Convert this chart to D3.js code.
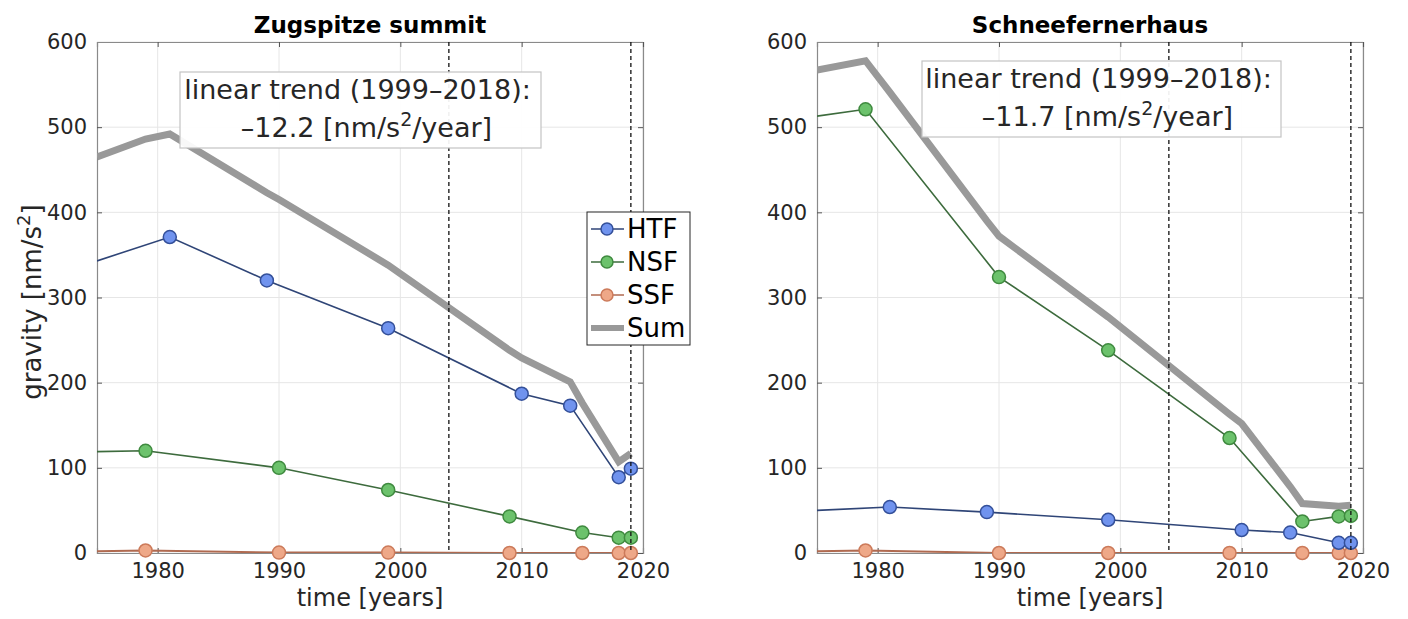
<!DOCTYPE html>
<html>
<head>
<meta charset="utf-8">
<script src="https://cdn.jsdelivr.net/npm/d3@7"></script>
<style>
   body { margin: 0; background: #fff; }
   svg { font-family: "DejaVu Sans", sans-serif; }
</style>
</head>
<body>
<div id="chart"></div>
<script>
// Zugspitze summit
const zugHtfYears = [1975, 1981, 1989, 1999, 2010, 2014, 2018, 2019];
const zugHtf = [343, 371, 320, 264, 187, 173, 89, 99];
const zugNsfYears = [1975, 1979, 1990, 1999, 2009, 2015, 2018, 2019];
const zugNsf = [119, 120, 100, 74, 43, 24, 18, 18];
const zugSsfYears = [1975, 1979, 1990, 1999, 2009, 2015, 2018, 2019];
const zugSsf = [2, 3, 0.5, 0.5, 0, 0, 0, 0];
const zugSumYears = [1975, 1979, 1981, 1989, 1990, 1999, 2009, 2010, 2014, 2015, 2018, 2019];
const zugSum = [465, 486, 492, 423, 415, 338, 238, 229, 201, 176, 107, 117];

// Schneefernerhaus
const sfhHtfYears = [1975, 1981, 1989, 1999, 2010, 2014, 2018, 2019];
const sfhHtf = [50, 54, 48, 39, 27, 24, 12, 12];
const sfhNsfYears = [1975, 1979, 1990, 1999, 2009, 2015, 2018, 2019];
const sfhNsf = [513, 521, 324, 238, 135, 37, 43, 43.5];
const sfhSsfYears = [1975, 1979, 1990, 1999, 2009, 2015, 2018, 2019];
const sfhSsf = [2, 3, 0, 0, 0, 0, 0, 0];
const sfhSumYears = [1975, 1979, 1981, 1989, 1990, 1999, 2009, 2010, 2014, 2015, 2018, 2019];
const sfhSum = [567, 578, 541, 390, 372, 277, 163, 152, 78, 58, 55, 56];

const xTicks = [1980, 1990, 2000, 2010, 2020];
const yTicks = [0, 100, 200, 300, 400, 500, 600];
const markerYears = [2004, 2019];
const seriesNames = ["HTF", "NSF", "SSF", "Sum"];
const panelTitles = ["Zugspitze summit", "Schneefernerhaus"];
const trendValues = ["\u201312.2", "\u201311.7"];

const styles = {
   HTF: { line: "#2f4577", fill: "#7093ee", stroke: "#34509a" },
   NSF: { line: "#3d6b3d", fill: "#6cc26c", stroke: "#3f8a3f" },
   SSF: { line: "#b06a50", fill: "#eea888", stroke: "#cc7a5a" },
   Sum: { line: "#999999" }
};

const zip = (years, values) => years.map((y, i) => ({ x: y, y: values[i] }));

const panels = [
   {
      left: 97, right: 643, top: 42, bottom: 553,
      title: panelTitles[0], trend: trendValues[0],
      box: { x: 180, y: 72, w: 361, h: 76 },
      legend: true,
      series: {
         HTF: zip(zugHtfYears, zugHtf),
         NSF: zip(zugNsfYears, zugNsf),
         SSF: zip(zugSsfYears, zugSsf),
         Sum: zip(zugSumYears, zugSum)
      }
   },
   {
      left: 817, right: 1363, top: 42, bottom: 553,
      title: panelTitles[1], trend: trendValues[1],
      box: { x: 922, y: 61, w: 359, h: 76 },
      legend: false,
      series: {
         HTF: zip(sfhHtfYears, sfhHtf),
         NSF: zip(sfhNsfYears, sfhNsf),
         SSF: zip(sfhSsfYears, sfhSsf),
         Sum: zip(sfhSumYears, sfhSum)
      }
   }
];

const svg = d3.select("#chart").append("svg")
   .attr("width", 1408)
   .attr("height", 619);

panels.forEach((p, pi) => {
   const x = d3.scaleLinear().domain([1975, 2020]).range([p.left, p.right]);
   const y = d3.scaleLinear().domain([0, 600]).range([p.bottom, p.top]);
   const g = svg.append("g").attr("class", "panel-" + pi);

   // Clip for data
   g.append("clipPath").attr("id", "clip" + pi)
      .append("rect")
      .attr("x", p.left).attr("y", p.top)
      .attr("width", p.right - p.left).attr("height", p.bottom - p.top);

   // Gridlines
   g.append("g").selectAll("line").data(xTicks).join("line")
      .attr("x1", d => x(d)).attr("x2", d => x(d))
      .attr("y1", p.top).attr("y2", p.bottom)
      .attr("stroke", "#e6e6e6").attr("stroke-width", 1);
   g.append("g").selectAll("line").data(yTicks).join("line")
      .attr("x1", p.left).attr("x2", p.right)
      .attr("y1", d => y(d)).attr("y2", d => y(d))
      .attr("stroke", "#e6e6e6").attr("stroke-width", 1);

   // Axes (ticks inward, MATLAB style)
   const yAxis = d3.axisLeft(y).tickValues(yTicks).tickSize(-5).tickPadding(10).tickFormat(d3.format("d"));
   const xAxis = d3.axisBottom(x).tickValues(xTicks).tickSize(-5).tickPadding(10).tickFormat(d3.format("d"));
   const yAxisR = d3.axisRight(y).tickValues(yTicks).tickSize(-5).tickFormat("");
   const xAxisT = d3.axisTop(x).tickValues(xTicks).tickSize(-5).tickFormat("");

   const styleAxis = (sel) => {
      sel.select(".domain").attr("stroke", "#8a8a8a").attr("stroke-width", 1.2);
      sel.selectAll(".tick line").attr("stroke", "#555");
      sel.selectAll(".tick text")
         .attr("fill", "#262626")
         .style("font-size", "21px")
         .style("font-family", "DejaVu Sans, sans-serif");
   };

   g.append("g").attr("transform", `translate(${p.left},0)`).call(yAxis).call(styleAxis);
   g.append("g").attr("transform", `translate(0,${p.bottom})`).call(xAxis).call(styleAxis);
   g.append("g").attr("transform", `translate(${p.right},0)`).call(yAxisR).call(styleAxis);
   g.append("g").attr("transform", `translate(0,${p.top})`).call(xAxisT).call(styleAxis);

   // Series lines
   const line = d3.line().x(d => x(d.x)).y(d => y(d.y));
   const data = g.append("g").attr("clip-path", `url(#clip${pi})`);

   data.append("path")
      .datum(p.series.Sum)
      .attr("d", line)
      .attr("fill", "none")
      .attr("stroke", styles.Sum.line)
      .attr("stroke-width", 7)
      .attr("stroke-linejoin", "miter");

   ["SSF", "NSF", "HTF"].forEach(name => {
      data.append("path")
         .datum(p.series[name])
         .attr("d", line)
         .attr("fill", "none")
         .attr("stroke", styles[name].line)
         .attr("stroke-width", name === "SSF" ? 2 : 1.6);
   });

   ["SSF", "NSF", "HTF"].forEach(name => {
      g.append("g").selectAll("circle")
         .data(p.series[name].filter(d => d.x > 1975))
         .join("circle")
         .attr("cx", d => x(d.x))
         .attr("cy", d => y(d.y))
         .attr("r", 6.5)
         .attr("fill", styles[name].fill)
         .attr("stroke", styles[name].stroke)
         .attr("stroke-width", 1.5);
   });

   // Dashed vertical markers
   g.append("g").selectAll("line").data(markerYears).join("line")
      .attr("x1", d => x(d)).attr("x2", d => x(d))
      .attr("y1", p.top).attr("y2", p.bottom)
      .attr("stroke", "#111")
      .attr("stroke-width", 1.3)
      .attr("stroke-dasharray", "4,3");

   // Trend annotation box
   g.append("rect")
      .attr("x", p.box.x).attr("y", p.box.y)
      .attr("width", p.box.w).attr("height", p.box.h)
      .attr("fill", "#fff").attr("fill-opacity", 0.93)
      .attr("stroke", "#c4c4c4").attr("stroke-width", 1.2);

   const cx = p.box.x + p.box.w / 2;
   g.append("text")
      .attr("x", cx - 3).attr("y", p.box.y + 27)
      .attr("text-anchor", "middle")
      .attr("fill", "#262626")
      .style("font-size", "27px")
      .text("linear trend (1999\u20132018):");

   const t2 = g.append("text")
      .attr("x", cx + 6).attr("y", p.box.y + 65)
      .attr("text-anchor", "middle")
      .attr("fill", "#262626")
      .style("font-size", "27px");
   t2.append("tspan").text(p.trend + " [nm/s");
   t2.append("tspan").attr("dy", -11).style("font-size", "19px").text("2");
   t2.append("tspan").attr("dy", 11).text("/year]");

   // Title
   g.append("text")
      .attr("x", (p.left + p.right) / 2).attr("y", 33)
      .attr("text-anchor", "middle")
      .attr("fill", "#000")
      .style("font-size", "23px")
      .style("font-weight", "bold")
      .text(p.title);

   // X label
   g.append("text")
      .attr("x", (p.left + p.right) / 2).attr("y", 606)
      .attr("text-anchor", "middle")
      .attr("fill", "#262626")
      .style("font-size", "24px")
      .text("time [years]");

   // Legend
   if (p.legend) {
      const lg = g.append("g").attr("transform", "translate(587,212)");
      lg.append("rect")
         .attr("width", 103).attr("height", 133)
         .attr("fill", "#fff")
         .attr("stroke", "#262626").attr("stroke-width", 1);
      seriesNames.forEach((name, i) => {
         const ly = 17 + i * 33;
         const item = lg.append("g").attr("transform", `translate(0,${ly})`);
         if (name === "Sum") {
            item.append("line")
               .attr("x1", 4).attr("x2", 37).attr("y1", 0).attr("y2", 0)
               .attr("stroke", styles.Sum.line).attr("stroke-width", 6);
         } else {
            item.append("line")
               .attr("x1", 4).attr("x2", 37).attr("y1", 0).attr("y2", 0)
               .attr("stroke", styles[name].line).attr("stroke-width", 1.6);
            item.append("circle")
               .attr("cx", 20).attr("cy", 0).attr("r", 6)
               .attr("fill", styles[name].fill)
               .attr("stroke", styles[name].stroke).attr("stroke-width", 1.5);
         }
         item.append("text")
            .attr("x", 40).attr("y", 9)
            .attr("fill", "#000")
            .style("font-size", "26px")
            .text(name);
      });
   }
});

// Y label (left panel only)
const yl = svg.append("text")
   .attr("transform", "translate(41,302) rotate(-90)")
   .attr("text-anchor", "middle")
   .attr("fill", "#262626")
   .style("font-size", "26px");
yl.append("tspan").text("gravity [nm/s");
yl.append("tspan").attr("dy", -11).style("font-size", "18px").text("2");
yl.append("tspan").attr("dy", 11).text("]");
</script>
</body>
</html>
